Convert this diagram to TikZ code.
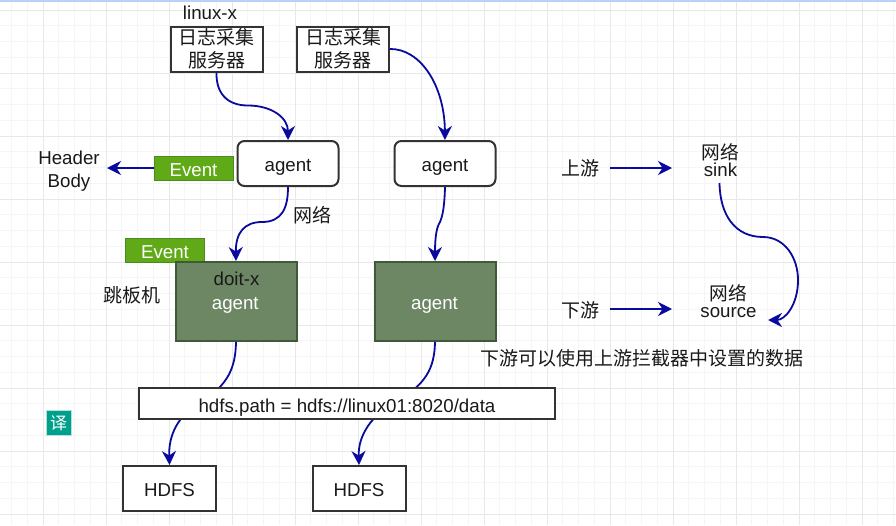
\documentclass[tikz,border=0pt]{standalone}
\usepackage{fontspec}
\setmainfont{Liberation Sans}
\newfontfamily\cjk{Noto Sans CJK SC}
\usetikzlibrary{arrows.meta}
\definecolor{flow}{HTML}{0A0A9E}
\definecolor{gridmajor}{HTML}{E8E8E8}
\definecolor{gridminor}{HTML}{F5F5F5}
\definecolor{evgreen}{HTML}{60A917}
\definecolor{evborder}{HTML}{4A8A20}
\definecolor{darkfill}{HTML}{6D8764}
\definecolor{darkline}{HTML}{3F5A38}
\definecolor{badge}{HTML}{00A08C}
\definecolor{topbar}{HTML}{BCD0F7}
\tikzset{
  txt/.style={font=\fontsize{18.7}{19}\selectfont, inner sep=0pt, align=center, text=black!90},
  plain/.style={txt, draw=black!80, line width=2pt, fill=white, anchor=north west},
  agentbox/.style={plain, rounded corners=7pt, minimum width=101pt, minimum height=45pt, text height=15pt, text depth=0pt},
  logbox/.style={plain, minimum width=92pt, minimum height=45pt, font=\cjk\fontsize{19}{23}\selectfont},
  hdfsbox/.style={plain, minimum width=93pt, minimum height=45pt, text height=16pt, text depth=0pt},
  pathbox/.style={plain, minimum width=416pt, minimum height=31pt, text height=17pt, text depth=0pt},
  darkbox/.style={txt, draw=darkline, line width=2pt, fill=darkfill, anchor=north west, minimum width=121pt, minimum height=79pt},
  eventbox/.style={txt, draw=evborder, line width=1pt, fill=evgreen, text=white, anchor=north west, minimum width=79pt, minimum height=24pt, text height=16pt, text depth=0pt},
  flowline/.style={draw=flow, line width=1.8pt},
  arrow/.style={flowline, -{Stealth[length=14pt,width=14pt,inset=4.5pt]}},
  cn/.style={txt, font=\cjk\fontsize{19}{20}\selectfont},
  twoline/.style={txt, font=\fontsize{18.7}{17}\selectfont},
}
\begin{document}
\begin{tikzpicture}[x=1pt,y=-1pt]
\useasboundingbox (0,0) rectangle (896,525);
\fill[white] (0,0) rectangle (896,525);
% grid
\foreach \k in {0,...,57} {\draw[gridminor, line width=1pt] ({11.7+15.75*\k},2) -- ({11.7+15.75*\k},525);}
\foreach \k in {0,...,33} {\draw[gridminor, line width=1pt] (0,{10+15.75*\k}) -- (896,{10+15.75*\k});}
\foreach \k in {0,...,14} {\draw[gridmajor, line width=1pt] ({43.7+63*\k},2) -- ({43.7+63*\k},525);}
\foreach \k in {0,...,8} {\draw[gridmajor, line width=1pt] (0,{10+63*\k}) -- (896,{10+63*\k});}
\fill[topbar] (0,0) rectangle (896,2.2);

% nodes
\node[txt, anchor=base] (linux) at (210,19) {linux-x};
\node[logbox] (log1) at (169.5,25.5) {日志采集\\服务器};
\node[logbox] (log2) at (296,25.5) {日志采集\\服务器};
\node[agentbox] (agent1) at (236.5,140) {agent};
\node[agentbox] (agent2) at (393.5,140) {agent};
\node[eventbox] (ev1) at (153.5,155.5) {Event};
\node[eventbox] (ev2) at (125,238) {Event};
\node[txt, font=\fontsize{18.7}{23}\selectfont] (hb) at (69,171) {Header\\Body};
\node[cn] (net) at (312,215.5) {网络};
\node[darkbox] (dark1) at (174.5,261) {};
\node[darkbox] (dark2) at (373.5,261) {};
\node[txt, anchor=base] (doit) at (236.5,285) {doit-x};
\node[txt, text=white, anchor=base] (a1) at (235.3,309) {agent};
\node[txt, text=white, anchor=base] (a2) at (434.5,309) {agent};
\node[cn] (jump) at (132,295) {跳板机};
\node[hdfsbox] (h1) at (122,465) {HDFS};
\node[hdfsbox] (h2) at (311.5,465) {HDFS};
\node[cn] (up) at (580,168.5) {上游};
\node[cn] (down) at (580,310.5) {下游};
\node[twoline] (sinkn) at (720.5,160) {{\cjk 网络}\\sink};
\node[twoline] (srcn) at (728.5,301.5) {{\cjk 网络}\\source};
\node[cn] (note) at (642,358) {下游可以使用上游拦截器中设置的数据};
\coordinate (upEnd) at (672,168);
\coordinate (downEnd) at (672,309);
\coordinate (upStart) at (610,168);
\coordinate (downStart) at (610,309);
\coordinate (sinkOut) at (719.5,183);
\coordinate (srcIn) at (768,320);
\coordinate (hbIn) at (107,168);

% connectors
\draw[arrow] (log1.south) .. controls (216,92) and (226,105.5) .. (248,105.5) .. controls (272,105.5) and (288,118) .. (agent1.north);
\draw[arrow] (log2.east) .. controls (420,48.5) and (444.5,85) .. (agent2.north);
\draw[arrow] (agent1.south) .. controls (288,208) and (282,222) .. (262,222) .. controls (245,222) and (235.5,232) .. (dark1.north);
\draw[arrow] (agent2.south) .. controls (444.5,205) and (443,215) .. (440,222) .. controls (436,228) and (435,240) .. (dark2.north);
\draw[arrow] (ev1.west) -- (hbIn);
\draw[arrow] (dark1.south) .. controls (235.5,368) and (228,385) .. (201,402) .. controls (178,415) and (168.5,435) .. (h1.north);
\draw[arrow] (dark2.south) .. controls (434.5,368) and (426,385) .. (395,402) .. controls (372,415) and (358,435) .. (h2.north);
\draw[arrow] (upStart) -- (upEnd);
\draw[arrow] (downStart) -- (downEnd);
\draw[arrow] (sinkOut) .. controls (720,215) and (735,237) .. (763,237) .. controls (785,237) and (798,258) .. (798,280) .. controls (798,305) and (785,320) .. (srcIn);

% path box above the lines
\node[pathbox] (path) at (138,387) {hdfs.path = hdfs://linux01:8020/data};
% badge
\node[cn, fill=badge, draw=white!70!badge, line width=0.7pt, text=white, minimum width=25pt, minimum height=25pt, font=\cjk\fontsize{17}{17}\selectfont] (tr) at (58.5,423) {译};
\end{tikzpicture}
\end{document}
